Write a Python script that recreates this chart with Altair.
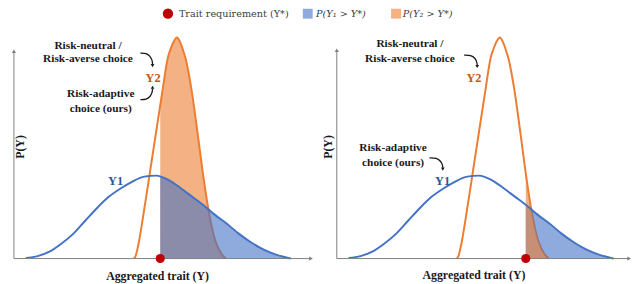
import altair as alt
import pandas as pd

# ---- data (x in trait units, h in density units) ----
blue_u = [4, 8, 12, 16, 20, 24, 28, 32, 36, 40, 44, 48, 52, 56, 60, 64, 68, 72, 76, 80, 84, 88, 92, 93.5]
blue_h = [0.5, 2.5, 7, 15, 25, 38, 51, 62.5, 71, 78, 83, 84, 80, 72, 63, 54, 44, 35, 25, 16.5, 9.5, 4.5, 1, 0]

orange_u = [40.5, 41, 42, 44, 46, 48, 50, 52, 53, 54, 55, 56, 57, 58, 60, 62, 64, 66, 68, 70, 71.5]
orange_h = [0, 2, 14, 50, 89, 128, 167, 204, 213, 220, 224, 220, 212, 202, 170, 127, 82, 44, 18, 5, 0]

panels = ["left", "right"]
panel_offset = [0, 109]
threshold_u = [49.4, 63.8]
blue_at_threshold = [83.5, 54.5]
orange_at_threshold = [157, 85]

axis_x_end = [100.3, 98.7]
axis_y_end = [210, 211]

BLUE = "#4472c4"
ORANGE = "#ed7d31"
GRAY = "#7f7f7f"
RED = "#c00000"
INK = "#1a1a1a"

# ---- tables ----
rows = []
for p, off in zip(panels, panel_offset):
    for u, h in zip(blue_u, blue_h):
        rows.append({"panel": p, "series": "Y1", "x": u + off, "h": h})
    for u, h in zip(orange_u, orange_h):
        rows.append({"panel": p, "series": "Y2", "x": u + off, "h": h})
curves = pd.DataFrame(rows)

area_rows = []
for p, off, t, bt, ot in zip(panels, panel_offset, threshold_u, blue_at_threshold, orange_at_threshold):
    area_rows.append({"panel": p, "series": "Y1", "x": t + off, "h": bt})
    area_rows += [{"panel": p, "series": "Y1", "x": u + off, "h": h} for u, h in zip(blue_u, blue_h) if u > t]
    area_rows.append({"panel": p, "series": "Y2", "x": t + off, "h": ot})
    area_rows += [{"panel": p, "series": "Y2", "x": u + off, "h": h} for u, h in zip(orange_u, orange_h) if u > t]
areas = pd.DataFrame(area_rows)

axes = pd.DataFrame({
    "x": panel_offset, "x2": [o + e for o, e in zip(panel_offset, axis_x_end)],
    "ytop": axis_y_end,
})
thr = pd.DataFrame({"x": [t + o for t, o in zip(threshold_u, panel_offset)], "h": [0, 0]})

xs = alt.Scale(domain=[-2, 208.6667], nice=False, zero=False)
ys = alt.Scale(domain=[-24, 252], nice=False, zero=False)
X = lambda f="x": alt.X(f"{f}:Q", scale=xs, axis=None)
Y = lambda f="h": alt.Y(f"{f}:Q", scale=ys, axis=None)


def line(series, color):
    return alt.Chart(curves).transform_filter(alt.datum.series == series).mark_line(
        color=color, strokeWidth=2, interpolate="monotone"
    ).encode(x=X(), y=Y(), detail="panel:N")


def area(panel, series, color):
    return alt.Chart(areas).transform_filter(
        (alt.datum.panel == panel) & (alt.datum.series == series)
    ).mark_area(color=color, opacity=0.6, interpolate="monotone").encode(x=X(), y=Y())


# axes
x_axis = alt.Chart(axes).mark_rule(color=GRAY, strokeWidth=1).encode(
    x=X(), x2="x2:Q", y=alt.Y("zero:Q", scale=ys, axis=None)
).transform_calculate(zero="0")
y_axis = alt.Chart(axes).mark_rule(color=GRAY, strokeWidth=1).encode(
    x=X(), y=alt.Y("zero:Q", scale=ys, axis=None), y2="ytop:Q"
).transform_calculate(zero="0")
x_arrow = alt.Chart(axes).mark_point(shape="triangle-right", filled=True, color=GRAY, size=18, opacity=1).encode(
    x=X("x2"), y=alt.Y("zero:Q", scale=ys, axis=None)
).transform_calculate(zero="0")
y_arrow = alt.Chart(axes).mark_point(shape="triangle-up", filled=True, color=GRAY, size=18, opacity=1).encode(
    x=X(), y=Y("ytop")
)

dots = alt.Chart(thr).mark_circle(color=RED, size=85, opacity=1).encode(x=X(), y=Y())

# annotations
notes = pd.DataFrame({
    "x": [25, 25, 29.3, 29.3, 133.7, 133.7, 128, 128],
    "h": [215, 202, 167, 151, 217, 202, 112, 97],
    "text": ["Risk-neutral /", "Risk-averse choice", "Risk-adaptive", "choice (ours)",
             "Risk-neutral /", "Risk-averse choice", "Risk-adaptive", "choice (ours)"],
})
note_text = alt.Chart(notes).mark_text(
    font="Liberation Serif", fontWeight="bold", fontSize=11.5, color=INK, baseline="middle"
).encode(x=X(), y=Y(), text="text:N")

# curved annotation arrows (path points in chart units)
arrow_id = ["a"] * 5 + ["b"] * 5 + ["c"] * 5 + ["d"] * 5
arrow_x = [42.7, 44.7, 46.0, 46.7, 46.8,
           42.7, 44.7, 46.0, 46.7, 46.8,
           152.0, 154.3, 155.7, 156.3, 156.4,
           140.3, 142.7, 144.0, 144.7, 144.8]
arrow_h = [208, 208, 205, 201, 197,
           161, 161, 164, 168, 172,
           206, 206, 203, 199, 196,
           102, 102, 99, 95, 92]
head_x = [46.8, 46.8, 156.4, 144.8]
head_h = [195.5, 173.5, 194.5, 90.5]
head_shape = ["triangle-down", "triangle-up", "triangle-down", "triangle-down"]

arrow_df = pd.DataFrame({"id": arrow_id, "x": arrow_x, "h": arrow_h, "i": list(range(len(arrow_x)))})
arrow_lines = alt.Chart(arrow_df).mark_line(color=INK, strokeWidth=1.3, interpolate="basis").encode(
    x=X(), y=Y(), detail="id:N", order="i:Q"
)
head_df = pd.DataFrame({"x": head_x, "h": head_h, "s": head_shape})
arrow_heads = alt.Chart(head_df).mark_point(filled=True, color=INK, size=14, opacity=1).encode(
    x=X(), y=Y(), shape=alt.Shape("s:N", scale=None)
)

labels = pd.DataFrame({
    "x": [47, 155.3, 34.3, 144.7],
    "h": [183, 183, 78, 78],
    "text": ["Y2", "Y2", "Y1", "Y1"],
    "c": ["#c55a11", "#c55a11", "#2f5597", "#2f5597"],
})
label_text = alt.Chart(labels).mark_text(
    font="Liberation Serif", fontWeight="bold", fontSize=12.5, baseline="middle"
).encode(x=X(), y=Y(), text="text:N", color=alt.Color("c:N", scale=None))

ytitles = pd.DataFrame({"x": [2.2, 106], "h": [113, 113], "text": ["P(Y)", "P(Y)"]})
ytitle_text = alt.Chart(ytitles).mark_text(
    font="Liberation Serif", fontWeight="bold", fontSize=12, angle=270, color=INK, baseline="middle"
).encode(x=X(), y=Y(), text="text:N")

xtitles = pd.DataFrame({"x": [48.5, 155.3], "h": [-18, -17], "text": ["Aggregated trait (Y)", "Aggregated trait (Y)"]})
xtitle_text = alt.Chart(xtitles).mark_text(
    font="Liberation Serif", fontWeight="bold", fontSize=12, color=INK, baseline="middle"
).encode(x=X(), y=Y(), text="text:N")

# legend
leg_dot = alt.Chart(pd.DataFrame({"x": [52], "h": [248]})).mark_circle(color=RED, size=110, opacity=1).encode(x=X(), y=Y())
leg_sq = alt.Chart(pd.DataFrame({"x": [99.2, 129], "h": [248, 248], "c": [BLUE, ORANGE]})).mark_square(
    size=100, opacity=0.6
).encode(x=X(), y=Y(), color=alt.Color("c:N", scale=None))
leg_txt1 = alt.Chart(pd.DataFrame({
    "x": [55.7], "h": [248], "text": ["Trait requirement (Y*)"],
})).mark_text(font="DejaVu Serif", fontSize=9.8, align="left", baseline="middle", color="#404040").encode(
    x=X(), y=Y(), text="text:N"
)
leg_txt2 = alt.Chart(pd.DataFrame({
    "x": [102, 131.3], "h": [248, 248], "text": ["P(Y₁ > Y*)", "P(Y₂ > Y*)"],
})).mark_text(font="DejaVu Serif", fontStyle="italic", fontSize=9.8, align="left", baseline="middle",
              color="#404040").encode(x=X(), y=Y(), text="text:N")

chart = alt.layer(
    line("Y2", ORANGE),
    area("left", "Y2", ORANGE),
    area("left", "Y1", BLUE),
    area("right", "Y1", BLUE),
    area("right", "Y2", ORANGE),
    line("Y1", BLUE),
    x_axis, y_axis, x_arrow, y_arrow,
    dots,
    note_text, arrow_lines, arrow_heads, label_text, ytitle_text, xtitle_text,
    leg_dot, leg_sq, leg_txt1, leg_txt2,
).properties(
    width=632, height=276,
    autosize=alt.AutoSizeParams(type="none"),
    padding=0,
).configure_view(stroke=None)

chart.save("out.html", embed_options={"renderer": "svg", "actions": False})
